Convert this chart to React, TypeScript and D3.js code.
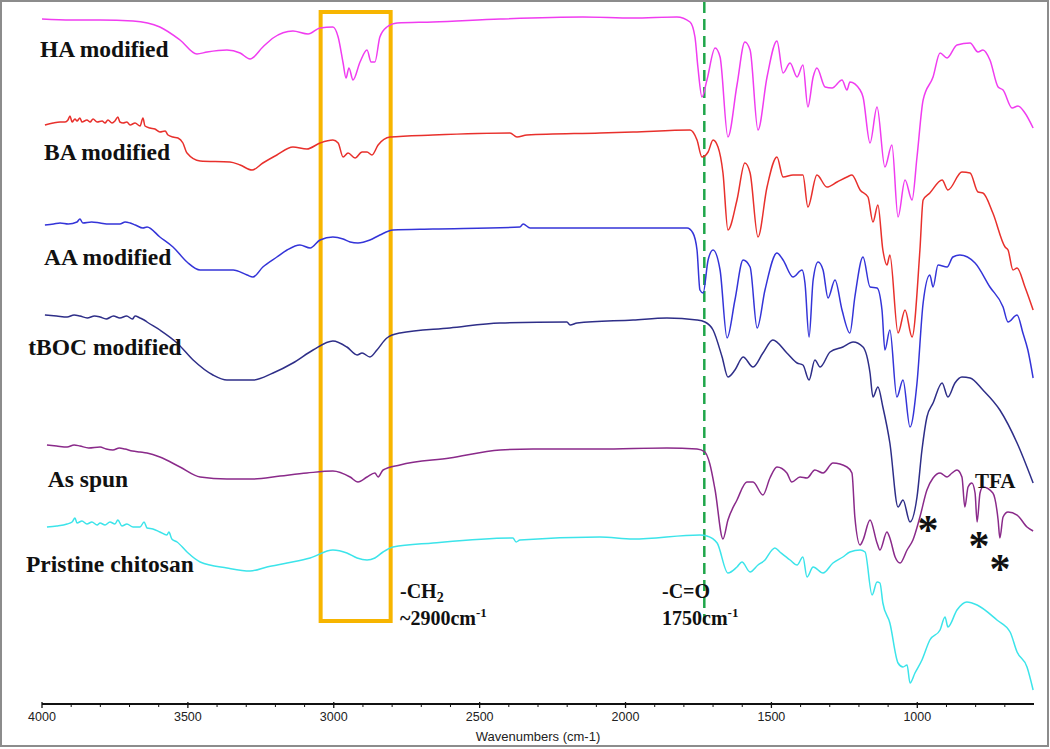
import React from 'react';
import * as d3 from 'd3';

// FTIR spectra, offset transmittance (arbitrary units), pairs of [wavenumber, value]
const haModified: [number, number][] = [
  [4000, 685], [3900, 684], [3800, 684], [3688, 683], [3596, 677], [3527, 664], [3469, 650], [3434, 652], [3366, 654], [3321, 651],
  [3287, 645], [3243, 657], [3208, 666], [3140, 673], [3088, 670], [3047, 676], [3003, 677], [2985, 667],
  [2968, 641], [2958, 626], [2948, 636], [2934, 624], [2910, 642], [2886, 654], [2872, 642], [2859, 642],
  [2842, 667], [2818, 677], [2783, 681], [2660, 682], [2430, 685], [2146, 687], [1974, 686], [1824, 687],
  [1779, 682], [1762, 667], [1752, 637], [1738, 607], [1721, 624], [1693, 656], [1676, 647], [1649, 567],
  [1618, 619], [1591, 662], [1573, 654], [1546, 574], [1515, 627], [1481, 663], [1460, 631], [1436, 641],
  [1412, 627], [1392, 639], [1375, 597], [1357, 627], [1344, 636], [1316, 617], [1292, 616], [1258, 624],
  [1241, 614], [1231, 622], [1196, 614], [1186, 607], [1162, 561], [1138, 597], [1111, 537], [1087, 559],
  [1066, 487], [1042, 524], [1018, 504], [1001, 547], [980, 604], [946, 627], [922, 651], [898, 646],
  [864, 659], [819, 661], [792, 652], [775, 654], [751, 644], [723, 617], [706, 614], [675, 596],
  [655, 598], [631, 591], [603, 576],
];

const baModified: [number, number][] = [
  [3990, 579], [3962, 581], [3938, 582], [3921, 582], [3911, 584], [3904, 588], [3897, 582], [3887, 585],
  [3880, 583], [3870, 586], [3863, 582], [3846, 584], [3835, 582], [3825, 585], [3811, 582], [3794, 583],
  [3784, 581], [3774, 584], [3760, 581], [3750, 583], [3740, 587], [3733, 582], [3722, 581], [3709, 582],
  [3698, 579], [3681, 581], [3664, 578], [3654, 586], [3647, 578], [3630, 576], [3613, 575], [3596, 572],
  [3578, 573], [3568, 569], [3551, 567], [3534, 566], [3517, 561], [3503, 551], [3458, 543], [3356, 542],
  [3321, 539], [3280, 534], [3243, 541], [3195, 549], [3140, 557], [3092, 555], [3047, 561], [3003, 564],
  [2985, 561], [2968, 547], [2951, 551], [2927, 546], [2903, 552], [2886, 552], [2869, 549], [2848, 559],
  [2807, 567], [2660, 569], [2396, 571], [2372, 567], [2338, 569], [2088, 571], [1974, 572], [1779, 574],
  [1755, 564], [1738, 547], [1717, 552], [1700, 564], [1683, 557], [1666, 531], [1649, 474], [1618, 504],
  [1591, 541], [1573, 531], [1546, 467], [1515, 517], [1481, 547], [1460, 527], [1426, 529], [1392, 529],
  [1375, 497], [1344, 529], [1310, 517], [1275, 522], [1241, 527], [1224, 529], [1196, 514], [1169, 507],
  [1152, 482], [1135, 499], [1118, 454], [1104, 439], [1094, 449], [1066, 371], [1042, 394], [1018, 367],
  [991, 454], [980, 504], [957, 511], [915, 524], [895, 514], [847, 532], [819, 531], [792, 512],
  [775, 511], [741, 491], [699, 457], [689, 454], [672, 434], [658, 436], [631, 417], [603, 394],
];

const aaModified: [number, number][] = [
  [3990, 479], [3960, 480], [3938, 481], [3910, 480], [3880, 482], [3870, 485], [3860, 481], [3830, 482],
  [3801, 481], [3770, 480], [3733, 480], [3715, 482], [3698, 481], [3680, 479], [3654, 476], [3640, 477],
  [3596, 467], [3551, 457], [3503, 442], [3458, 434], [3345, 434], [3297, 429], [3277, 427], [3243, 437],
  [3195, 447], [3160, 454], [3116, 459], [3081, 456], [3047, 464], [3003, 467], [2968, 465], [2944, 462],
  [2917, 461], [2876, 464], [2842, 469], [2797, 474], [2660, 475], [2362, 477], [2351, 480], [2327, 476],
  [2156, 476], [1974, 476], [1789, 476], [1769, 471], [1755, 454], [1745, 414], [1734, 411], [1717, 444],
  [1700, 454], [1676, 434], [1652, 366], [1625, 404], [1597, 444], [1573, 437], [1549, 376], [1522, 414],
  [1481, 451], [1460, 444], [1426, 427], [1395, 434], [1385, 421], [1371, 367], [1357, 424], [1340, 442],
  [1323, 434], [1306, 406], [1282, 424], [1258, 394], [1231, 371], [1214, 407], [1186, 447], [1162, 417],
  [1138, 416], [1121, 394], [1111, 354], [1094, 374], [1070, 307], [1049, 324], [1025, 277], [1001, 321],
  [980, 401], [957, 429], [946, 417], [929, 439], [898, 437], [878, 447], [854, 449], [802, 441],
  [751, 417], [706, 397], [689, 382], [658, 389], [638, 371], [621, 354], [603, 326],
];

const tbocModified: [number, number][] = [
  [3990, 389], [3950, 388], [3914, 387], [3890, 389], [3870, 388], [3845, 386], [3820, 388], [3801, 387],
  [3780, 385], [3755, 388], [3733, 386], [3710, 388], [3690, 385], [3681, 388], [3664, 386], [3650, 384],
  [3640, 382], [3596, 374], [3537, 361], [3482, 344], [3414, 329], [3366, 324], [3277, 324], [3208, 331],
  [3140, 341], [3071, 354], [3003, 363], [2955, 357], [2920, 349], [2903, 351], [2876, 347], [2852, 354],
  [2818, 366], [2773, 371], [2602, 376], [2430, 381], [2201, 382], [2190, 379], [2166, 381], [1974, 384],
  [1858, 386], [1755, 384], [1728, 382], [1700, 374], [1669, 347], [1649, 327], [1625, 334], [1597, 347],
  [1563, 337], [1529, 351], [1495, 364], [1447, 351], [1412, 341], [1392, 339], [1371, 324], [1351, 344],
  [1333, 337], [1299, 352], [1255, 357], [1220, 362], [1186, 357], [1162, 331], [1152, 307], [1135, 317],
  [1118, 297], [1094, 261], [1066, 197], [1049, 204], [1025, 182], [1001, 207], [984, 254], [967, 287],
  [946, 301], [915, 321], [895, 307], [871, 321], [847, 327], [819, 326], [775, 314], [717, 294],
  [658, 261], [603, 221],
];

const asSpun: [number, number][] = [
  [3983, 259], [3950, 258], [3914, 257], [3890, 259], [3870, 258], [3840, 256], [3801, 257], [3780, 255],
  [3757, 254], [3735, 256], [3716, 255], [3690, 253], [3664, 252], [3640, 251], [3596, 247], [3527, 237],
  [3458, 227], [3366, 225], [3277, 225], [3184, 228], [3092, 231], [3003, 233], [2944, 227], [2917, 222],
  [2886, 227], [2859, 231], [2848, 227], [2831, 234], [2773, 239], [2602, 246], [2430, 254], [2317, 255],
  [2088, 255], [1858, 256], [1755, 255], [1728, 252], [1711, 240], [1693, 214], [1666, 165], [1649, 184],
  [1618, 204], [1584, 222], [1563, 222], [1529, 209], [1505, 226], [1481, 237], [1447, 231], [1430, 222],
  [1402, 227], [1378, 226], [1351, 234], [1323, 231], [1289, 241], [1241, 237], [1224, 231], [1214, 187],
  [1196, 159], [1186, 164], [1162, 184], [1138, 161], [1128, 154], [1104, 172], [1094, 166], [1076, 147],
  [1059, 141], [1035, 154], [1015, 164], [991, 187], [967, 214], [946, 226], [922, 231], [898, 227],
  [881, 231], [864, 234], [847, 227], [837, 197], [826, 217], [813, 221], [802, 211], [795, 182],
  [785, 211], [775, 217], [741, 211], [723, 184], [717, 166], [706, 187], [689, 192], [658, 189],
  [624, 177], [603, 173],
];

const pristineChitosan: [number, number][] = [
  [3983, 177], [3949, 178], [3914, 180], [3897, 182], [3887, 186], [3880, 181], [3863, 183], [3846, 180],
  [3829, 182], [3811, 179], [3801, 181], [3784, 179], [3767, 182], [3750, 180], [3740, 184], [3726, 178],
  [3709, 180], [3688, 177], [3664, 177], [3650, 182], [3640, 176], [3620, 175], [3596, 172], [3572, 169],
  [3565, 172], [3555, 165], [3537, 162], [3503, 152], [3458, 142], [3366, 136], [3287, 133], [3229, 137],
  [3160, 141], [3081, 146], [3003, 154], [2955, 151], [2920, 146], [2886, 144], [2859, 146], [2831, 152],
  [2797, 157], [2660, 161], [2386, 166], [2375, 162], [2362, 164], [2088, 167], [1974, 165], [1745, 169],
  [1721, 168], [1686, 161], [1649, 131], [1618, 137], [1601, 142], [1573, 132], [1546, 139], [1522, 144],
  [1498, 154], [1488, 156], [1471, 152], [1436, 144], [1412, 139], [1392, 147], [1378, 127], [1357, 137],
  [1323, 131], [1289, 141], [1255, 147], [1231, 152], [1196, 154], [1179, 152], [1155, 109], [1138, 122],
  [1128, 121], [1118, 101], [1094, 81], [1066, 41], [1049, 37], [1035, 39], [1025, 21], [1008, 31],
  [984, 44], [957, 64], [922, 74], [905, 87], [895, 77], [864, 94], [830, 102], [795, 99],
  [727, 84], [682, 72], [658, 52], [624, 37], [603, 14],
];

const seriesNames = ['HA modified', 'BA modified', 'AA modified', 'tBOC modified', 'As spun', 'Pristine chitosan'];
const seriesData = [haModified, baModified, aaModified, tbocModified, asSpun, pristineChitosan];
const seriesColors = ['#f03cf0', '#e8302c', '#3434d8', '#2e2e88', '#8a2a8a', '#3ce4ea'];
const labelAnchor: [number, number][] = [[4007, 647], [3993, 544], [3993, 439], [4047, 349], [3980, 217], [4055, 132]];

const majorTicks = [4000, 3500, 3000, 2500, 2000, 1500, 1000];
const minorTicks = d3.range(3900, 600, -100).filter(t => t % 500 !== 0);
const carbonylLine = 1730;
const ch2Band: [number, number] = [3045, 2805];

const W = 1050;
const H = 749;
const margin = { left: 42, right: 1034, axisY: 704 };

export default function App() {
  const x = d3.scaleLinear().domain([4000, 600]).range([margin.left, margin.right]);
  const y = d3.scaleLinear().domain([0, 700]).range([margin.axisY, 4]);
  const line = d3.line<[number, number]>()
    .x(d => x(d[0]))
    .y(d => y(d[1]))
    .curve(d3.curveMonotoneX);

  const serif = "'Liberation Serif', 'DejaVu Serif', serif";
  const sans = "'Liberation Sans Narrow', 'Liberation Sans', Arial, sans-serif";

  return (
    <svg width={W} height={H} viewBox={`0 0 ${W} ${H}`}
      style={{ position: 'absolute', left: 0, top: 0, background: '#fff' }}>
      <rect x={1} y={1} width={W - 3} height={H - 4} fill="#fff" stroke="#8c8c8c" strokeWidth={2} />

      {/* band box and carbonyl marker */}
      <rect x={x(ch2Band[0])} y={12} width={x(ch2Band[1]) - x(ch2Band[0])} height={609}
        fill="none" stroke="#f7b500" strokeWidth={4} />
      <line x1={x(carbonylLine)} x2={x(carbonylLine)} y1={2} y2={622}
        stroke="#1fa64a" strokeWidth={2.5} strokeDasharray="11 6" />

      {seriesData.map((d, i) => (
        <path key={seriesNames[i]} d={line(d) ?? ''} fill="none" stroke={seriesColors[i]} strokeWidth={1.5} />
      ))}

      {seriesNames.map((name, i) => (
        <text key={name} x={x(labelAnchor[i][0])} y={y(labelAnchor[i][1])}
          fontFamily={serif} fontWeight="bold" fontSize={23.5} fill="#111">{name}</text>
      ))}

      {/* annotations */}
      <g fontFamily={serif} fontWeight="bold" fontSize={20} fill="#111">
        <text x={400} y={598}>-CH<tspan fontSize={14} dy={4}>2</tspan></text>
        <text x={400} y={625}>~2900cm<tspan fontSize={13} dy={-8}>-1</tspan></text>
        <text x={662} y={598}>-C=O</text>
        <text x={662} y={625}>1750cm<tspan fontSize={13} dy={-8}>-1</tspan></text>
        <text x={975} y={488} fontSize={21}>TFA</text>
        <text x={928} y={544} fontSize={42} textAnchor="middle">*</text>
        <text x={979} y={560} fontSize={42} textAnchor="middle">*</text>
        <text x={1000} y={583} fontSize={42} textAnchor="middle">*</text>
      </g>

      {/* x axis */}
      <line x1={margin.left} x2={margin.right} y1={margin.axisY} y2={margin.axisY} stroke="#111" strokeWidth={2} />
      {majorTicks.map(t => (
        <g key={t}>
          <line x1={x(t)} x2={x(t)} y1={margin.axisY - 2} y2={margin.axisY + 4} stroke="#111" strokeWidth={1.3} />
          <text x={x(t)} y={margin.axisY + 17} textAnchor="middle" fontFamily={sans} fontSize={12.5} fill="#222">{t}</text>
        </g>
      ))}
      {minorTicks.map(t => (
        <line key={t} x1={x(t)} x2={x(t)} y1={margin.axisY} y2={margin.axisY + 3} stroke="#111" strokeWidth={1} />
      ))}
      <text x={(margin.left + margin.right) / 2} y={margin.axisY + 37} textAnchor="middle"
        fontFamily={sans} fontSize={13} fill="#222">Wavenumbers (cm-1)</text>
    </svg>
  );
}
